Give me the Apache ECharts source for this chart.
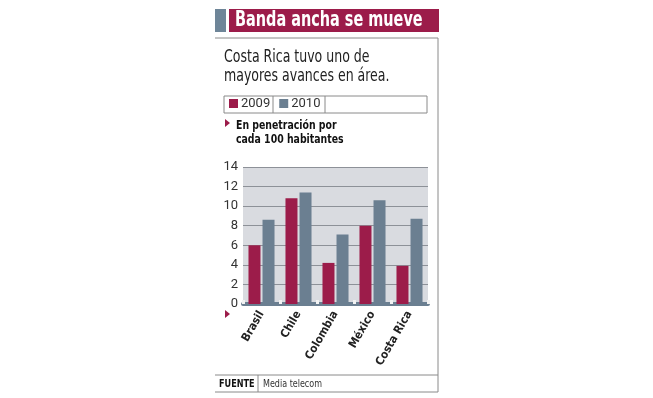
<!DOCTYPE html>
<html>
<head>
<meta charset="utf-8">
<script src="https://cdn.jsdelivr.net/npm/echarts@6/dist/echarts.min.js"></script>
<style>
	html, body { margin: 0; padding: 0; background: #fff; }
	#chart { width: 653px; height: 398px; }
</style>
</head>
<body>
<div id="chart"></div>
<script>
var paises = ['Brasil', 'Chile', 'Colombia', 'México', 'Costa Rica'];
var datos2009 = [6.0, 10.8, 4.2, 8.0, 3.9];
var datos2010 = [8.6, 11.4, 7.1, 10.6, 8.7];
var ticksY = [0, 2, 4, 6, 8, 10, 12, 14];

var colores = {
	rojo: '#9c1c4a',
	gris: '#6b7f91',
	fondo: '#d9dbe0',
	rejilla: '#8d9198',
	borde: '#8a8a8a',
	texto: '#222222'
};
var fuenteCond = '"DejaVu Sans Condensed", sans-serif';

var chart = echarts.init(document.getElementById('chart'));

// texto estrecho: se comprime horizontalmente para imitar la fuente del original
function textoEstrecho(x, y, texto, font, color, escala, lineHeight) {
	return {
		type: 'text', x: x, y: y, scaleX: escala,
		style: { text: texto, fill: color, font: font, lineHeight: lineHeight }
	};
}

chart.setOption({
	animation: false,
	legend: {
		left: 229,
		top: 97,
		padding: 0,
		itemWidth: 9,
		itemHeight: 9,
		itemGap: 9,
		icon: 'rect',
		selectedMode: false,
		textStyle: { fontSize: 13, color: '#333', fontFamily: 'Roboto', padding: [1, 0, 0, -2] },
		data: ['2009', '2010']
	},
	grid: {
		left: 243,
		right: 225,
		top: 167,
		bottom: 94,
		show: true,
		backgroundColor: colores.fondo,
		borderWidth: 0
	},
	xAxis: {
		type: 'category',
		data: paises,
		axisLine: { show: true, lineStyle: { color: colores.gris, width: 4 } },
		axisTick: { show: true, inside: true, length: 4, lineStyle: { color: '#f2f2f2', width: 3 } },
		axisLabel: {
			rotate: 60,
			interval: 0,
			margin: 8,
			fontSize: 11.5,
			fontWeight: 'bold',
			color: colores.texto,
			fontFamily: fuenteCond
		}
	},
	yAxis: {
		type: 'value',
		min: ticksY[0],
		max: ticksY[ticksY.length - 1],
		interval: 2,
		axisLine: { show: false },
		axisTick: { show: false },
		axisLabel: { margin: 5, fontSize: 13, color: '#333', fontFamily: 'Roboto' },
		splitLine: { show: true, lineStyle: { color: colores.rejilla, width: 1 } }
	},
	series: [
		{
			name: '2009',
			type: 'bar',
			data: datos2009,
			barWidth: 12,
			barGap: '17%',
			itemStyle: { color: colores.rojo }
		},
		{
			name: '2010',
			type: 'bar',
			data: datos2010,
			barWidth: 12,
			itemStyle: { color: colores.gris }
		}
	],
	graphic: [
		// cabecera
		{ type: 'rect', shape: { x: 215, y: 9, width: 11, height: 23 }, style: { fill: '#6e8598' } },
		{ type: 'rect', shape: { x: 229, y: 9, width: 210, height: 23 }, style: { fill: colores.rojo } },
		textoEstrecho(235, 9, 'Banda ancha se mueve', 'bold 22px ' + fuenteCond, '#fff', 0.73),
		// marco del panel
		{ type: 'polyline', shape: { points: [[215, 38], [438, 38], [438, 392], [215, 392]] }, style: { stroke: colores.borde, fill: null, lineWidth: 1 } },
		{ type: 'line', shape: { x1: 215, y1: 375, x2: 438, y2: 375 }, style: { stroke: colores.borde, lineWidth: 1 } },
		{ type: 'line', shape: { x1: 258, y1: 375, x2: 258, y2: 392 }, style: { stroke: colores.borde, lineWidth: 1 } },
		// subtítulo
		textoEstrecho(224, 48, 'Costa Rica tuvo uno de\nmayores avances en área.', '17px ' + fuenteCond, '#222', 0.82, 19),
		// caja de leyenda
		{ type: 'rect', shape: { x: 224, y: 96, width: 203, height: 17 }, style: { stroke: colores.borde, fill: null, lineWidth: 1 } },
		{ type: 'line', shape: { x1: 273, y1: 96, x2: 273, y2: 113 }, style: { stroke: colores.borde, lineWidth: 1 } },
		{ type: 'line', shape: { x1: 325, y1: 96, x2: 325, y2: 113 }, style: { stroke: colores.borde, lineWidth: 1 } },
		// unidad
		{ type: 'polygon', shape: { points: [[225, 119], [230, 123], [225, 127]] }, style: { fill: colores.rojo } },
		textoEstrecho(236, 119, 'En penetración por\ncada 100 habitantes', 'bold 13px ' + fuenteCond, '#111', 0.8, 14),
		// marcador eje x
		{ type: 'polygon', shape: { points: [[225, 310], [230, 314], [225, 318]] }, style: { fill: colores.rojo } },
		// fuente
		textoEstrecho(219, 379, 'FUENTE', 'bold 11px ' + fuenteCond, '#111', 0.82),
		textoEstrecho(263, 379, 'Media telecom', '11px ' + fuenteCond, '#333', 0.81)
	]
});
</script>
</body>
</html>
